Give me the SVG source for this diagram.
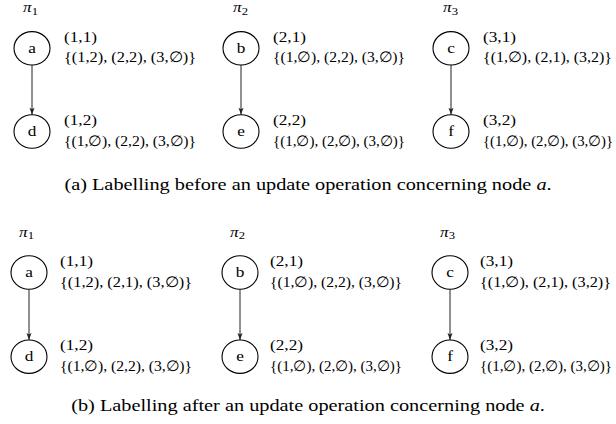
<svg xmlns="http://www.w3.org/2000/svg" width="616" height="424" viewBox="0 0 616 424" font-family="'Liberation Serif', 'Times New Roman', Times, serif">
<style>
text{font-family:'Liberation Serif','Times New Roman',Times,serif;fill:#000}
.lb{font-size:15px}
.nl{font-size:15px;text-anchor:middle}
.pi{font-size:15px;font-style:italic}
.sub{font-size:11px;font-style:normal}
.cap{font-size:17.5px;text-anchor:middle}
.nd{fill:#fff;stroke:#000;stroke-width:1.1}
.ed{stroke:#222;stroke-width:1;fill:none;marker-end:url(#ah)}
</style>
<defs>
<marker id="ah" viewBox="0 0 8 8" refX="7.5" refY="4" markerWidth="8" markerHeight="8" markerUnits="userSpaceOnUse" orient="auto">
<path d="M0.5,1.5 L7.5,4 L0.5,6.5 L2,4 Z" fill="#222"/>
</marker>
</defs>
<rect width="616" height="424" fill="#fff"/>

<g id="connectors">
<line class="ed" x1="32" y1="65" x2="32" y2="114.8"/>
<line class="ed" x1="241" y1="65" x2="241" y2="114.8"/>
<line class="ed" x1="451" y1="65" x2="451" y2="114.8"/>
<line class="ed" x1="29" y1="289.2" x2="29" y2="340"/>
<line class="ed" x1="240" y1="289.2" x2="240" y2="340"/>
<line class="ed" x1="450" y1="289.2" x2="450" y2="340"/>
</g>

<g id="panel-a">
<text class="pi" transform="matrix(1.15 0 0 1 23 12)">π<tspan class="sub" dy="2.5">1</tspan></text>
<text class="pi" transform="matrix(1.15 0 0 1 233 12)">π<tspan class="sub" dy="2.5">2</tspan></text>
<text class="pi" transform="matrix(1.15 0 0 1 443 12)">π<tspan class="sub" dy="2.5">3</tspan></text>

<g id="a1"><ellipse class="nd" cx="32" cy="48.3" rx="18" ry="16.7"/><text class="nl" transform="matrix(1.15 0 0 1 32 52.5)">a</text>
<text class="lb" transform="matrix(1.15 0 0 1 64 41.5)">(1,1)</text><text class="lb" x="64" y="62.3" textLength="132" lengthAdjust="spacingAndGlyphs">{(1,2), (2,2), (3,∅)}</text></g>
<g id="d1"><ellipse class="nd" cx="32" cy="131.5" rx="18" ry="16.7"/><text class="nl" transform="matrix(1.15 0 0 1 32 136)">d</text>
<text class="lb" transform="matrix(1.15 0 0 1 64 124.7)">(1,2)</text><text class="lb" x="64" y="145.5" textLength="132" lengthAdjust="spacingAndGlyphs">{(1,∅), (2,2), (3,∅)}</text></g>
<g id="b1"><ellipse class="nd" cx="241" cy="48.3" rx="18" ry="16.7"/><text class="nl" transform="matrix(1.15 0 0 1 241 52.5)">b</text>
<text class="lb" transform="matrix(1.15 0 0 1 273 41.5)">(2,1)</text><text class="lb" x="273" y="62.3" textLength="132" lengthAdjust="spacingAndGlyphs">{(1,∅), (2,2), (3,∅)}</text></g>
<g id="e1"><ellipse class="nd" cx="241" cy="131.5" rx="18" ry="16.7"/><text class="nl" transform="matrix(1.15 0 0 1 241 136)">e</text>
<text class="lb" transform="matrix(1.15 0 0 1 273 124.7)">(2,2)</text><text class="lb" x="273" y="145.5" textLength="132" lengthAdjust="spacingAndGlyphs">{(1,∅), (2,∅), (3,∅)}</text></g>
<g id="c1"><ellipse class="nd" cx="451" cy="48.3" rx="18" ry="16.7"/><text class="nl" transform="matrix(1.15 0 0 1 451 52.5)">c</text>
<text class="lb" transform="matrix(1.15 0 0 1 483 41.5)">(3,1)</text><text class="lb" x="483" y="62.3" textLength="129" lengthAdjust="spacingAndGlyphs">{(1,∅), (2,1), (3,2)}</text></g>
<g id="f1"><ellipse class="nd" cx="451" cy="131.5" rx="18" ry="16.7"/><text class="nl" transform="matrix(1.15 0 0 1 451 136)">f</text>
<text class="lb" transform="matrix(1.15 0 0 1 483 124.7)">(3,2)</text><text class="lb" x="483" y="145.5" textLength="130" lengthAdjust="spacingAndGlyphs">{(1,∅), (2,∅), (3,∅)}</text></g>

<text class="cap" transform="matrix(1.16 0 0 1 308 190)">(a)  Labelling before an update operation concerning node <tspan font-style="italic">a</tspan>.</text>
</g>

<g id="panel-b">
<text class="pi" transform="matrix(1.15 0 0 1 19 236.5)">π<tspan class="sub" dy="2.5">1</tspan></text>
<text class="pi" transform="matrix(1.15 0 0 1 230 236.5)">π<tspan class="sub" dy="2.5">2</tspan></text>
<text class="pi" transform="matrix(1.15 0 0 1 440 236.5)">π<tspan class="sub" dy="2.5">3</tspan></text>

<g id="a2"><ellipse class="nd" cx="29" cy="272.5" rx="18" ry="16.7"/><text class="nl" transform="matrix(1.15 0 0 1 29 277)">a</text>
<text class="lb" transform="matrix(1.15 0 0 1 60 265.5)">(1,1)</text><text class="lb" x="60" y="286.5" textLength="132" lengthAdjust="spacingAndGlyphs">{(1,2), (2,1), (3,∅)}</text></g>
<g id="d2"><ellipse class="nd" cx="29" cy="356.7" rx="18" ry="16.7"/><text class="nl" transform="matrix(1.15 0 0 1 29 361.2)">d</text>
<text class="lb" transform="matrix(1.15 0 0 1 60 349.7)">(1,2)</text><text class="lb" x="60" y="370.7" textLength="132" lengthAdjust="spacingAndGlyphs">{(1,∅), (2,2), (3,∅)}</text></g>
<g id="b2"><ellipse class="nd" cx="240" cy="272.5" rx="18" ry="16.7"/><text class="nl" transform="matrix(1.15 0 0 1 240 277)">b</text>
<text class="lb" transform="matrix(1.15 0 0 1 270 265.5)">(2,1)</text><text class="lb" x="270" y="286.5" textLength="132" lengthAdjust="spacingAndGlyphs">{(1,∅), (2,2), (3,∅)}</text></g>
<g id="e2"><ellipse class="nd" cx="240" cy="356.7" rx="18" ry="16.7"/><text class="nl" transform="matrix(1.15 0 0 1 240 361.2)">e</text>
<text class="lb" transform="matrix(1.15 0 0 1 270 349.7)">(2,2)</text><text class="lb" x="270" y="370.7" textLength="132" lengthAdjust="spacingAndGlyphs">{(1,∅), (2,∅), (3,∅)}</text></g>
<g id="c2"><ellipse class="nd" cx="450" cy="272.5" rx="18" ry="16.7"/><text class="nl" transform="matrix(1.15 0 0 1 450 277)">c</text>
<text class="lb" transform="matrix(1.15 0 0 1 480 265.5)">(3,1)</text><text class="lb" x="480" y="286.5" textLength="131" lengthAdjust="spacingAndGlyphs">{(1,∅), (2,1), (3,2)}</text></g>
<g id="f2"><ellipse class="nd" cx="450" cy="356.7" rx="18" ry="16.7"/><text class="nl" transform="matrix(1.15 0 0 1 450 361.2)">f</text>
<text class="lb" transform="matrix(1.15 0 0 1 480 349.7)">(3,2)</text><text class="lb" x="480" y="370.7" textLength="132" lengthAdjust="spacingAndGlyphs">{(1,∅), (2,∅), (3,∅)}</text></g>

<text class="cap" transform="matrix(1.16 0 0 1 308 411)">(b)  Labelling after an update operation concerning node <tspan font-style="italic">a</tspan>.</text>
</g>
</svg>
